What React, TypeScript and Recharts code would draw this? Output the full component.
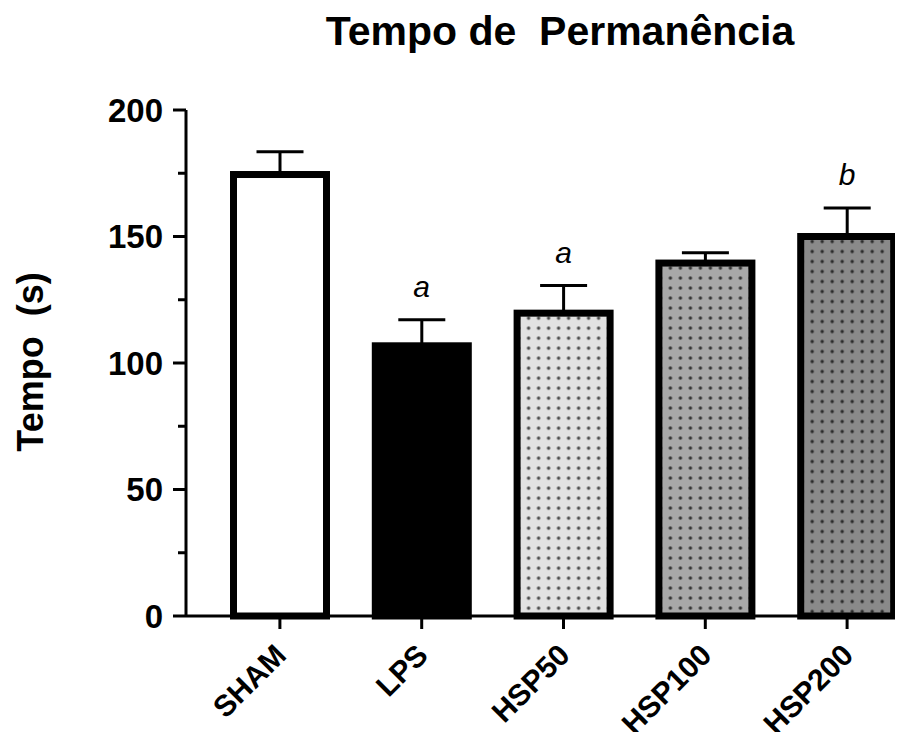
import React from 'react';
import { ComposedChart, Bar, Line, XAxis, YAxis, ErrorBar, LabelList } from 'recharts';

const groups = ['SHAM', 'LPS', 'HSP50', 'HSP100', 'HSP200'];
const means = [174.5, 106.8, 119.7, 139.5, 150.0];
const sems = [9.0, 10.3, 10.9, 4.1, 11.3];
const sigLetters = ['', 'a', 'a', '', 'b'];
const yTicks = [0, 25, 50, 75, 100, 125, 150, 175, 200];
const majorStep = 50;

const barStyles = [
  { fill: '#ffffff', dot: null },
  { fill: '#000000', dot: null },
  { fill: '#e2e2e2', dot: '#4a4a4a' },
  { fill: '#a8a8a8', dot: '#333333' },
  { fill: '#8a8a8a', dot: '#2a2a2a' },
];

const data = groups.map((g, i) => ({
  name: g,
  mean: means[i],
  err: [0, sems[i]],
  top: means[i] + sems[i],
  sig: sigLetters[i],
}));

const FONT = '"Liberation Sans", Arial, Helvetica, sans-serif';
const Y_TICK_SIZE = 13;
const Y_TICK_MARGIN = 10;

const BarShape = (props: any) => {
  const { x, y, width, height, index } = props;
  const st = barStyles[index] || barStyles[0];
  const sw = 7;
  const id = `dots-${index}`;
  return (
    <g>
      {st.dot && (
        <defs>
          <pattern id={id} patternUnits="userSpaceOnUse" x={x} y={y} width={10} height={10}>
            <rect x={0} y={0} width={10} height={10} fill={st.fill} />
            <circle cx={5} cy={5} r={1.7} fill={st.dot} />
          </pattern>
        </defs>
      )}
      <rect
        x={x + sw / 2}
        y={y}
        width={width - sw}
        height={height}
        fill={st.dot ? `url(#${id})` : st.fill}
        stroke="#000"
        strokeWidth={sw}
      />
    </g>
  );
};

const YTick = (props: any) => {
  const { x, y, payload } = props;
  const axisX = x + Y_TICK_SIZE + Y_TICK_MARGIN;
  const major = payload.value % majorStep === 0;
  const len = major ? 13 : 8;
  return (
    <g>
      <line x1={axisX - len} x2={axisX} y1={y} y2={y} stroke="#000" strokeWidth={3} />
      {major && (
        <text
          x={axisX - Y_TICK_SIZE - Y_TICK_MARGIN}
          y={y}
          dy="0.35em"
          textAnchor="end"
          fontFamily={FONT}
          fontWeight="bold"
          fontSize={33}
          fill="#000"
        >
          {payload.value}
        </text>
      )}
    </g>
  );
};

const XTick = (props: any) => {
  const { x, y, payload } = props;
  const ax = x + 8;
  const ay = y + 28;
  return (
    <text
      x={ax}
      y={ay}
      textAnchor="end"
      transform={`rotate(-45, ${ax}, ${ay})`}
      fontFamily={FONT}
      fontWeight="bold"
      fontSize={30}
      fill="#000"
    >
      {payload.value}
    </text>
  );
};

const SigLabel = (props: any) => {
  const x = props.x ?? props.viewBox?.x;
  const y = props.y ?? props.viewBox?.y;
  if (!props.value) return null;
  return (
    <text
      x={x}
      y={y - 23}
      textAnchor="middle"
      fontFamily={FONT}
      fontStyle="italic"
      fontSize={30}
      fill="#000"
    >
      {props.value}
    </text>
  );
};

export default function App() {
  return (
    <div style={{ position: 'relative', width: 903, height: 740, overflow: 'hidden', margin: -8, background: '#fff' }}>
      <ComposedChart
        width={918}
        height={740}
        data={data}
        margin={{ top: 110, right: 0, bottom: 0, left: 0 }}
      >
        <YAxis
          type="number"
          domain={[0, 200]}
          ticks={yTicks}
          interval={0}
          width={186}
          tickLine={false}
          tickSize={Y_TICK_SIZE}
          tickMargin={Y_TICK_MARGIN}
          axisLine={{ stroke: '#000', strokeWidth: 3 }}
          tick={<YTick />}
        />
        <XAxis
          dataKey="name"
          height={124}
          interval={0}
          padding={{ left: 23, right: 0 }}
          tickSize={13}
          tickMargin={0}
          tickLine={{ stroke: '#000', strokeWidth: 3 }}
          axisLine={{ stroke: '#000', strokeWidth: 3 }}
          tick={<XTick />}
        />
        <Bar dataKey="mean" barSize={100} shape={<BarShape />} isAnimationActive={false}>
          <ErrorBar dataKey="err" width={23.5} stroke="#000" strokeWidth={3} direction="y" />
        </Bar>
        <Line
          dataKey="top"
          stroke="none"
          dot={false}
          activeDot={false}
          legendType="none"
          isAnimationActive={false}
        >
          <LabelList dataKey="sig" content={<SigLabel />} />
        </Line>
      </ComposedChart>
      <svg
        width={903}
        height={740}
        style={{ position: 'absolute', left: 0, top: 0, pointerEvents: 'none' }}
      >
        <text
          x={560}
          y={45}
          textAnchor="middle"
          fontFamily={FONT}
          fontWeight="bold"
          fontSize={41}
          fill="#000"
          style={{ whiteSpace: 'pre' }}
        >
          {'Tempo de  Permanência'}
        </text>
        <text
          x={43}
          y={362}
          textAnchor="middle"
          transform="rotate(-90, 43, 362)"
          fontFamily={FONT}
          fontWeight="bold"
          fontSize={36}
          fill="#000"
          style={{ whiteSpace: 'pre' }}
        >
          {'Tempo  (s)'}
        </text>
      </svg>
    </div>
  );
}
